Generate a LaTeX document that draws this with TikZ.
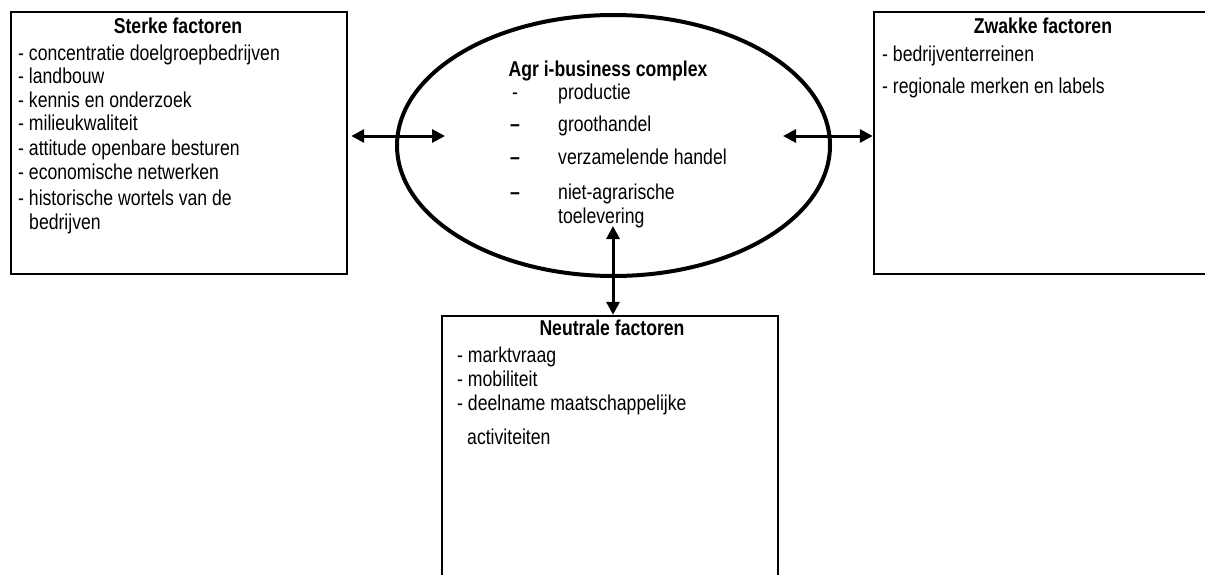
\documentclass[tikz,border=0pt]{standalone}
\usepackage{fontspec}
\setmainfont[FakeStretch=0.82]{Liberation Sans}
\usetikzlibrary{arrows.meta,shapes.geometric}
\begin{document}
\begin{tikzpicture}[x=1pt,y=-1pt,
  factorbox/.style={draw,line width=2.4pt,rectangle,inner sep=0pt},
  hub/.style={draw,line width=4pt,ellipse,inner sep=0pt},
  txt/.style={anchor=base west,inner sep=0pt,font=\fontsize{21.5}{24}\selectfont},
  dashmark/.style={txt,font=\fontsize{21.5}{24}\selectfont\bfseries},
  ttl/.style={anchor=base,inner sep=0pt,font=\fontsize{21.5}{24}\selectfont\bfseries},
  link/.style={line width=3pt,{Triangle[length=13pt,width=13pt]}-{Triangle[length=13pt,width=13pt]}}]
\clip (0,0) rectangle (1205,574);
\fill[white] (0,0) rectangle (1205,574);

% frames
\node[factorbox,minimum width=336pt,minimum height=262pt] (sterke) at (179,143) {};
\node[factorbox,minimum width=346pt,minimum height=262pt] (zwakke) at (1047,143) {};
\node[factorbox,minimum width=336pt,minimum height=290pt] (neutraal) at (610,461) {};
\node[hub,minimum width=433pt,minimum height=261pt] (agri) at (613.5,145.5) {};

% strong factors
\node[ttl] (st0) at (178,33) {Sterke factoren};
\node[txt] (st1) at (18,60) {- concentratie doelgroepbedrijven};
\node[txt] (st2) at (18,83) {- landbouw};
\node[txt] (st3) at (18,107) {- kennis en onderzoek};
\node[txt] (st4) at (18,130) {- milieukwaliteit};
\node[txt] (st5) at (18,155) {- attitude openbare besturen};
\node[txt] (st6) at (18,179) {- economische netwerken};
\node[txt] (st7) at (18,205) {- historische wortels van de};
\node[txt] (st8) at (29,229) {bedrijven};

% weak factors
\node[ttl] (zw0) at (1043,33) {Zwakke factoren};
\node[txt] (zw1) at (882,61) {- bedrijventerreinen};
\node[txt] (zw2) at (882,93) {- regionale merken en labels};

% neutral factors
\node[ttl] (ne0) at (612,335) {Neutrale factoren};
\node[txt] (ne1) at (457,362) {- marktvraag};
\node[txt] (ne2) at (457,386) {- mobiliteit};
\node[txt] (ne3) at (457,410) {- deelname maatschappelijke};
\node[txt] (ne4) at (467,444) {activiteiten};

% agri-business complex
\node[ttl] (ag0) at (608,76) {Agr i-business complex};
\node[txt] (agd1) at (512,99) {-};
\node[dashmark] (agd2) at (510,131) {–};
\node[dashmark] (agd3) at (510,164) {–};
\node[dashmark] (agd4) at (510,199) {–};
\node[txt] (ag1) at (558,99) {productie};
\node[txt] (ag2) at (558,131) {groothandel};
\node[txt] (ag3) at (558,164) {verzamelende handel};
\node[txt] (ag4) at (558,199) {niet-agrarische};
\node[txt] (ag5) at (558,223) {toelevering};

% connectors
\coordinate (lin) at (445,136);
\coordinate (rin) at (783,136);
\coordinate (bin) at (613,226);
\draw[link] (sterke.east |- lin) ++(3,0) -- (lin);
\draw[link] (rin) -- (zwakke.west |- rin);
\draw[link] (bin) -- (bin |- neutraal.north);
\end{tikzpicture}
\end{document}
